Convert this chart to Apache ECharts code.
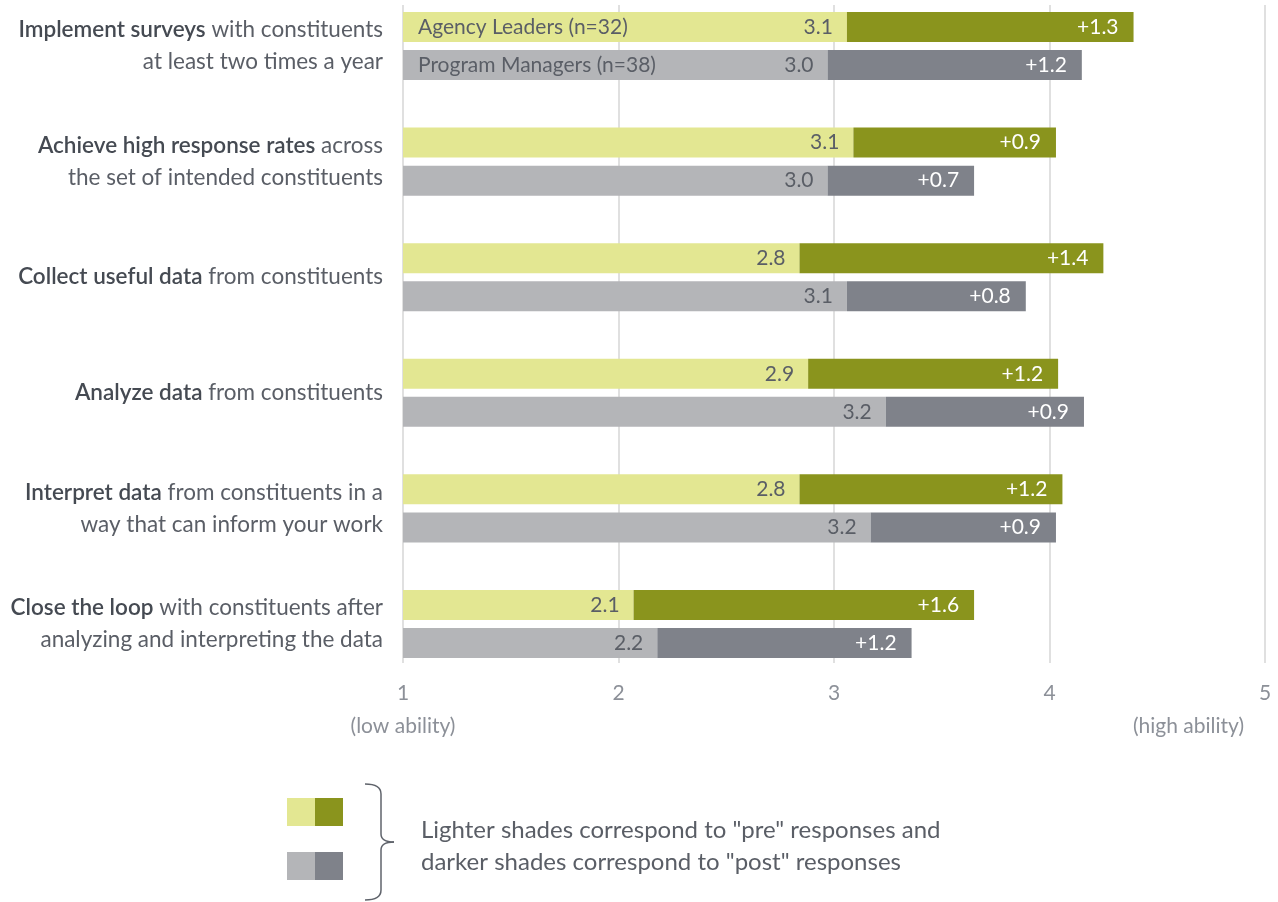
<!DOCTYPE html>
<html>
<head>
<meta charset="utf-8">
<script src="https://cdn.jsdelivr.net/npm/echarts@6/dist/echarts.min.js"></script>
<style>
  html, body {margin: 0; padding: 0; background: #fff;}
  #chart {width: 1278px; height: 902px;}
</style>
</head>
<body>
<div id="chart"></div>
<script>
// question rows (top to bottom)
const categories = [
  'Implement surveys with constituents\nat least two times a year',
  'Achieve high response rates across\nthe set of intended constituents',
  'Collect useful data from constituents',
  'Analyze data from constituents',
  'Interpret data from constituents in a\nway that can inform your work',
  'Close the loop with constituents after\nanalyzing and interpreting the data'
]
const boldParts = ['Implement surveys', 'Achieve high response rates', 'Collect useful data', 'Analyze data', 'Interpret data', 'Close the loop']

// pre scores and post gains
const agencyPre = [3.06, 3.09, 2.84, 2.88, 2.84, 2.07]
const agencyGain = [1.33, 0.94, 1.41, 1.16, 1.22, 1.58]
const pmPre = [2.97, 2.97, 3.06, 3.24, 3.17, 2.18]
const pmGain = [1.18, 0.68, 0.83, 0.92, 0.86, 1.18]

const xTicks = [1, 2, 3, 4, 5]
const groupNames = ['Agency Leaders (n=32)', 'Program Managers (n=38)']
const legendLines = ['Lighter shades correspond to "pre" responses and', 'darker shades correspond to "post" responses']

const FONT = 'Lato'
const C = {
  lightGreen: '#e3e792', darkGreen: '#8a941d',
  lightGray: '#b4b5b8', darkGray: '#7f828a',
  text: '#5a5e66', bold: '#454a52', axis: '#8c9098', grid: '#e0e0e0'
}

const chart = echarts.init(document.getElementById('chart'))

const preLabel = {
  show: true, position: 'insideRight', distance: 14,
  color: C.text, fontSize: 21, fontFamily: FONT,
  formatter: p => p.value.toFixed(1)
}
const gainLabel = {
  show: true, position: 'insideRight', distance: 15,
  color: '#fff', fontSize: 21, fontFamily: FONT,
  formatter: p => '+' + p.value.toFixed(1)
}

function bar(name, stack, data, color, label) {
  return {
    name, type: 'bar', stack, data,
    xAxisIndex: 0, yAxisIndex: 0,
    barWidth: 30, barGap: '27%',
    itemStyle: {color},
    label,
    silent: true
  }
}

const option = {
  animation: false,
  grid: [
    {left: 403, right: 13, top: -11.8, height: 693.6, outerBoundsMode: 'none'},
    {left: 403, right: 13, top: 5, height: 658, outerBoundsMode: 'none'}
  ],
  xAxis: [
    {gridIndex: 0, type: 'value', min: 1, max: 5, interval: 1, show: false},
    {
      gridIndex: 1, type: 'value', min: 1, max: 5, interval: 1,
      axisLine: {show: false}, axisTick: {show: false},
      splitLine: {show: true, lineStyle: {color: C.grid, width: 2}},
      axisLabel: {
        color: C.axis, fontSize: 21, fontFamily: FONT, margin: 20,
        formatter: v => xTicks.includes(v) ? String(v) : ''
      }
    }
  ],
  yAxis: [
    {
      gridIndex: 0, type: 'category', data: categories, inverse: true,
      axisLine: {show: false}, axisTick: {show: false},
      axisLabel: {
        margin: 20, align: 'right',
        formatter: (v, i) => {
          const b = boldParts[i]
          const lines = v.slice(b.length).split('\n')
          let s = '{b|' + b + '}{r|' + lines[0] + '}'
          for (let k = 1; k < lines.length; k++) s += '\n{r|' + lines[k] + '}'
          return s
        },
        rich: {
          b: {fontFamily: FONT, fontSize: 22.5, fontWeight: 600, color: C.bold, lineHeight: 32, align: 'right'},
          r: {fontFamily: FONT, fontSize: 22.5, color: C.text, lineHeight: 32, align: 'right'}
        }
      }
    },
    {gridIndex: 1, type: 'value', show: false}
  ],
  series: [
    bar('Agency pre', 'agency', agencyPre, C.lightGreen, preLabel),
    bar('Agency post', 'agency', agencyGain, C.darkGreen, gainLabel),
    bar('PM pre', 'pm', pmPre, C.lightGray, preLabel),
    bar('PM post', 'pm', pmGain, C.darkGray, gainLabel)
  ]
}

chart.setOption(option)

// labels placed through the chart's own scales
const x1 = chart.convertToPixel({xAxisIndex: 0}, 1)
const x5 = chart.convertToPixel({xAxisIndex: 0}, 5)
const yRow0 = chart.convertToPixel({yAxisIndex: 0}, 0)

const txt = (text, x, y, align, color, size) => ({
  type: 'text', x, y, z: 100,
  style: {
    text, fill: color || C.text, fontSize: size || 21, fontFamily: FONT,
    align: align || 'left', verticalAlign: 'middle'
  }
})

const stroke = {stroke: '#5f636b', lineWidth: 1.5, fill: null}
const bracket = [
  {type: 'bezierCurve', shape: {x1: 365, y1: 784, cpx1: 381, cpy1: 784, x2: 381, y2: 794}, style: stroke},
  {type: 'line', shape: {x1: 381, y1: 794, x2: 381, y2: 834}, style: stroke},
  {type: 'bezierCurve', shape: {x1: 381, y1: 834, cpx1: 381, cpy1: 842, x2: 394, y2: 842}, style: stroke},
  {type: 'bezierCurve', shape: {x1: 394, y1: 842, cpx1: 381, cpy1: 842, x2: 381, y2: 850}, style: stroke},
  {type: 'line', shape: {x1: 381, y1: 850, x2: 381, y2: 890}, style: stroke},
  {type: 'bezierCurve', shape: {x1: 381, y1: 890, cpx1: 381, cpy1: 900, x2: 365, y2: 900}, style: stroke}
]

const graphics = [
  txt(groupNames[0], x1 + 15, yRow0 - 19),
  txt(groupNames[1], x1 + 15, yRow0 + 19),
  txt('(low ability)', x1, 726, 'center', C.axis),
  txt('(high ability)', x5 - 21, 726, 'right', C.axis),
  // legend swatches
  {type: 'rect', shape: {x: 287, y: 798, width: 28, height: 28}, style: {fill: C.lightGreen}},
  {type: 'rect', shape: {x: 315, y: 798, width: 28, height: 28}, style: {fill: C.darkGreen}},
  {type: 'rect', shape: {x: 287, y: 852, width: 28, height: 28}, style: {fill: C.lightGray}},
  {type: 'rect', shape: {x: 315, y: 852, width: 28, height: 28}, style: {fill: C.darkGray}},
  ...bracket,
  txt(legendLines[0], 421, 830, 'left', C.text, 24),
  txt(legendLines[1], 421, 862, 'left', C.text, 24)
]

chart.setOption({graphic: graphics})
</script>
</body>
</html>
